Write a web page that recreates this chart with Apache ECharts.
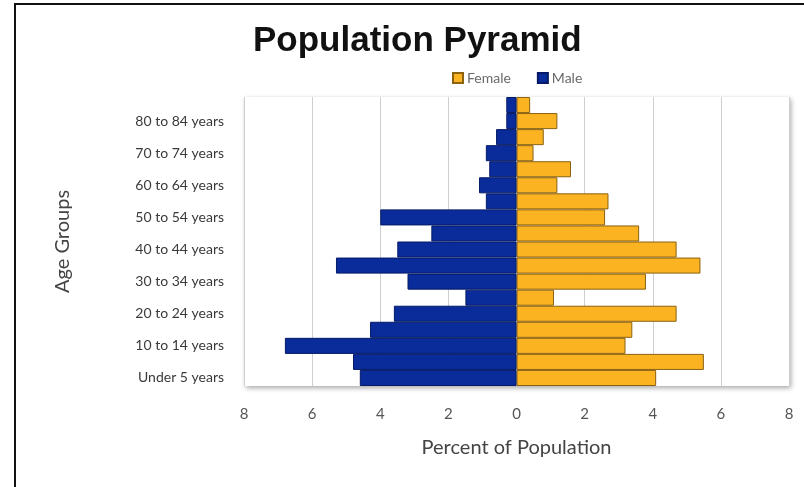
<!DOCTYPE html>
<html>
<head>
<meta charset="utf-8">
<script src="https://cdn.jsdelivr.net/npm/echarts@6/dist/echarts.min.js"></script>
<style>
  html, body { margin: 0; padding: 0; background: #ffffff; }
  #chart { width: 804px; height: 487px; }
</style>
</head>
<body>
<div id="chart"></div>
<script>
// Age groups, youngest at the bottom
const ageGroups = [
  'Under 5 years', '5 to 9 years', '10 to 14 years', '15 to 19 years',
  '20 to 24 years', '25 to 29 years', '30 to 34 years', '35 to 39 years',
  '40 to 44 years', '45 to 49 years', '50 to 54 years', '55 to 59 years',
  '60 to 64 years', '65 to 69 years', '70 to 74 years', '75 to 79 years',
  '80 to 84 years', '85 years and over'
];

// Percent of population, same order as ageGroups
const femalePct = [4.1, 5.5, 3.2, 3.4, 4.7, 1.1, 3.8, 5.4, 4.7, 3.6, 2.6, 2.7, 1.2, 1.6, 0.5, 0.8, 1.2, 0.4];
const malePct   = [4.6, 4.8, 6.8, 4.3, 3.6, 1.5, 3.2, 5.3, 3.5, 2.5, 4.0, 0.9, 1.1, 0.8, 0.9, 0.6, 0.3, 0.3];

// Axis ticks for the percent scale
const pctTicks = { min: -8, max: 8, step: 2 };

const chart = echarts.init(document.getElementById('chart'));

const textFont = 'Lato, "Open Sans", sans-serif';

chart.setOption({
  backgroundColor: '#ffffff',
  animation: false,
  graphic: [
    {
      type: 'rect',
      shape: { x: 15, y: 4, width: 820, height: 520 },
      style: { fill: 'none', stroke: '#111111', lineWidth: 2 },
      z: 100
    }
  ],
  title: {
    text: 'Population Pyramid',
    left: 248,
    top: 19,
    textStyle: {
      fontFamily: '"Liberation Sans", Arial, sans-serif',
      fontWeight: 'bold',
      fontSize: 35,
      color: '#111111'
    }
  },
  legend: {
    data: ['Female', 'Male'],
    icon: 'rect',
    left: 447,
    top: 66,
    itemWidth: 10,
    itemHeight: 10,
    itemGap: 26,
    textStyle: { fontFamily: textFont, fontSize: 14, color: '#6a6a6a', padding: [0, 0, 0, -1] }
  },
  grid: {
    left: 244,
    right: 15,
    top: 97,
    bottom: 101,
    show: true,
    backgroundColor: '#ffffff',
    borderWidth: 0,
    shadowColor: 'rgba(0,0,0,0.35)',
    shadowBlur: 5,
    shadowOffsetX: 2,
    shadowOffsetY: 2
  },
  xAxis: {
    type: 'value',
    min: pctTicks.min,
    max: pctTicks.max,
    interval: pctTicks.step,
    name: 'Percent of Population',
    nameLocation: 'middle',
    nameGap: 52,
    nameTextStyle: { fontFamily: textFont, fontSize: 20, color: '#444444' },
    axisLine: { show: false },
    axisTick: { show: false },
    axisLabel: {
      margin: 21,
      fontFamily: textFont,
      fontSize: 15,
      color: '#555555',
      formatter: v => String(Math.abs(v))
    },
    splitLine: { show: true, lineStyle: { color: '#cfcfcf', width: 1 } }
  },
  yAxis: {
    type: 'category',
    data: ageGroups,
    name: 'Age Groups',
    nameLocation: 'middle',
    nameGap: 171,
    nameTextStyle: { fontFamily: textFont, fontSize: 20, color: '#444444' },
    axisLine: { show: false },
    axisTick: { show: false },
    axisLabel: {
      interval: 1,
      margin: 20,
      fontFamily: textFont,
      fontSize: 14,
      color: '#3a3a3a'
    },
    splitLine: { show: false }
  },
  series: [
    {
      name: 'Female',
      type: 'bar',
      stack: 'pyramid',
      data: femalePct,
      barCategoryGap: '0%',
      itemStyle: { color: '#fbb322', borderColor: '#8a6210', borderWidth: 1 }
    },
    {
      name: 'Male',
      type: 'bar',
      stack: 'pyramid',
      data: malePct.map(v => -v),
      barCategoryGap: '0%',
      itemStyle: { color: '#0a2c9a', borderColor: '#041a66', borderWidth: 1 }
    }
  ]
});
</script>
</body>
</html>
